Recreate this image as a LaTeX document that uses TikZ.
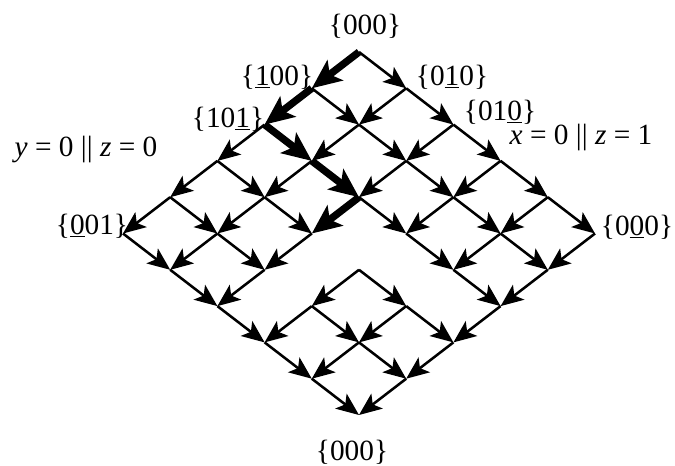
\documentclass[tikz,border=0pt]{standalone}
\usepackage{fontspec}
\setmainfont{Liberation Serif}
\usetikzlibrary{arrows.meta}

\begin{document}
\begin{tikzpicture}[x=0.75pt, y=-0.75pt, font=\fontsize{22}{26}\selectfont]
    \tikzstyle{edge} = [draw, line width=1.9pt, -{Stealth[length=17pt, width=14pt, inset=4pt]}]
    \tikzstyle{chosen} = [draw, line width=5.5pt, -{Stealth[length=22pt, width=19pt, inset=5pt]}]
    \tikzstyle{tag} = [inner sep=0pt]

    \useasboundingbox (0,0) rectangle (675,466);

    % lattice points v<a><b>
    \foreach \a in {0,...,5}
        \foreach \b in {0,...,5}
            \coordinate (v\a\b) at ({359+47.2*(\b-\a)}, {52+36.3*(\a+\b)});

    % down-left edges
    \foreach \a in {0,...,4}
        \foreach \b in {0,...,5} {
            \pgfmathtruncatemacro{\na}{\a+1}
            \pgfmathtruncatemacro{\gap}{(\a==2 && \b>1 && \b<5) || (\b==0 && \a<2)}
            \ifnum\gap=0 \path [edge] (v\a\b) -- (v\na\b); \fi
        }

    % down-right edges
    \foreach \a in {0,...,5}
        \foreach \b in {0,...,4} {
            \pgfmathtruncatemacro{\nb}{\b+1}
            \pgfmathtruncatemacro{\gap}{(\a==2 && \b<2) || (\b==2 && \a>2 && \a<5)}
            \ifnum\gap=0 \path [edge] (v\a\b) -- (v\a\nb); \fi
        }

    % highlighted route
    \path [chosen] (v00) -- (v10);
    \path [chosen] (v10) -- (v20);
    \path [chosen] (v20) -- (v21);
    \path [chosen] (v21) -- (v22);
    \path [chosen] (v22) -- (v32);

    \node [tag] (start) at (365,26) {\{000\}};
    \node [tag] (s100) at (277,77) {\{\underline{1}00\}};
    \node [tag] (s010) at (452,77) {\{0\underline{1}0\}};
    \node [tag] (s101) at (228,119) {\{10\underline{1}\}};
    \node [tag] (s010b) at (500,112) {\{01\underline{0}\}};
    \node [tag] (condR) at (581,137) {\textit{x} = 0 || \textit{z} = 1};
    \node [tag] (condL) at (86,149) {\textit{y} = 0 || \textit{z} = 0};
    \node [tag] (s001) at (92,226) {\{\underline{0}01\}};
    \node [tag] (s000) at (637,227) {\{0\underline{0}0\}};
    \node [tag] (finish) at (352,452) {\{000\}};
\end{tikzpicture}
\end{document}
